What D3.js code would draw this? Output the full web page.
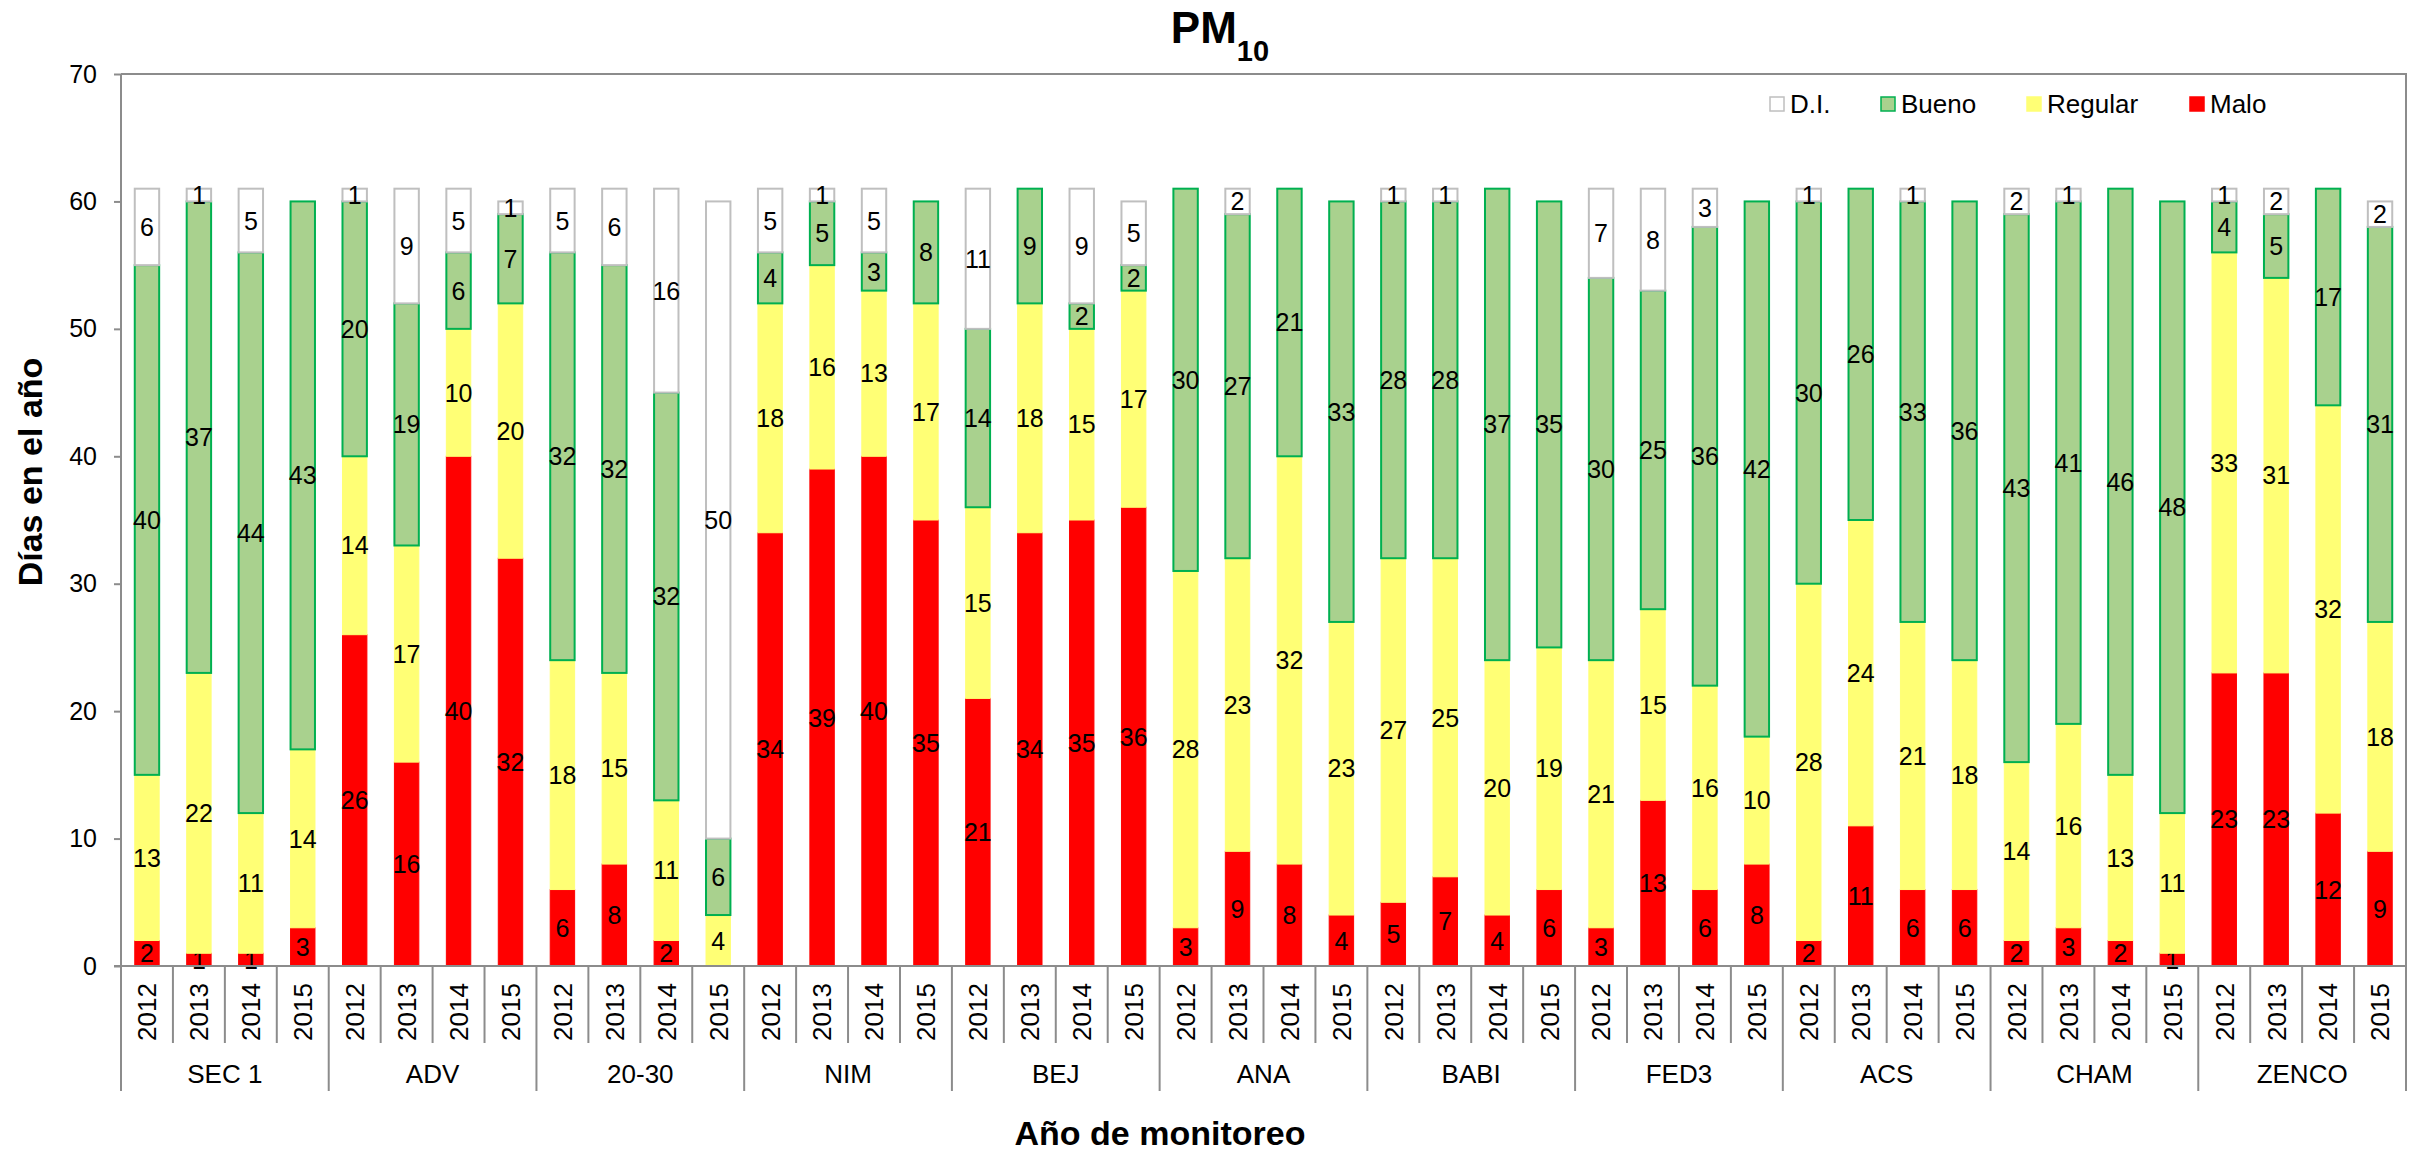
<!DOCTYPE html>
<html>
<head>
<meta charset="utf-8">
<script src="https://cdn.jsdelivr.net/npm/d3@7"></script>
<style>
  body { margin: 0; background: #fff; }
  text { font-family: "Liberation Sans", Arial, sans-serif; }
</style>
</head>
<body>
<div class="canvas"></div>
<script>
const stations = ["SEC 1", "ADV", "20-30", "NIM", "BEJ", "ANA", "BABI", "FED3", "ACS", "CHAM", "ZENCO"];
const years = ["2012", "2013", "2014", "2015"];

// one value per station-year, in station order
const malo = [2, 1, 1, 3, 26, 16, 40, 32, 6, 8, 2, 0, 34, 39, 40, 35, 21, 34, 35, 36, 3, 9, 8, 4,
  5, 7, 4, 6, 3, 13, 6, 8, 2, 11, 6, 6, 2, 3, 2, 1, 23, 23, 12, 9];
const regular = [13, 22, 11, 14, 14, 17, 10, 20, 18, 15, 11, 4, 18, 16, 13, 17, 15, 18, 15, 17, 28, 23, 32, 23,
  27, 25, 20, 19, 21, 15, 16, 10, 28, 24, 21, 18, 14, 16, 13, 11, 33, 31, 32, 18];
const bueno = [40, 37, 44, 43, 20, 19, 6, 7, 32, 32, 32, 6, 4, 5, 3, 8, 14, 9, 2, 2, 30, 27, 21, 33,
  28, 28, 37, 35, 30, 25, 36, 42, 30, 26, 33, 36, 43, 41, 46, 48, 4, 5, 17, 31];
const di = [6, 1, 5, 0, 1, 9, 5, 1, 5, 6, 16, 50, 5, 1, 5, 0, 11, 0, 9, 5, 0, 2, 0, 0,
  1, 1, 0, 0, 7, 8, 3, 0, 1, 0, 1, 0, 2, 1, 0, 0, 1, 2, 0, 2];

const yTicks = [0, 10, 20, 30, 40, 50, 60, 70];

const width = 2421, height = 1155;
const plotLeft = 121, plotRight = 2406, plotTop = 74, plotBottom = 966;
const grey = "#8c8c8c";

const keys = ["malo", "regular", "bueno", "di"];
const fills = { malo: "#ff0000", regular: "#ffff75", bueno: "#a9d18e", di: "#ffffff" };
const strokes = { malo: "#ff0000", regular: "#ffff75", bueno: "#00b050", di: "#bfbfbf" };

let rows = [];
stations.forEach((s, si) => {
  years.forEach((yr, yi) => {
    let i = si * 4 + yi;
    rows.push({ id: i, station: s, year: yr, malo: malo[i], regular: regular[i], bueno: bueno[i], di: di[i] });
  });
});

const svg = d3.select(".canvas").append("svg").attr("width", width).attr("height", height);

let xScale = d3.scaleBand()
  .domain(rows.map((d) => d.id))
  .range([plotLeft, plotRight])
  .paddingInner(0.53)
  .paddingOuter(0.265);
let yScale = d3.scaleLinear().domain([0, 70]).range([plotBottom, plotTop]);

const series = d3.stack().keys(keys)(rows);

// plot border (top and right)
svg.append("path")
  .attr("d", `M${plotLeft},${plotTop}H${plotRight}V${plotBottom}`)
  .attr("fill", "none")
  .attr("stroke", grey)
  .attr("stroke-width", 2);

// bars
let groups = svg.selectAll("g.series").data(series).join("g").attr("class", "series");
groups.selectAll("rect")
  .data((s) => s.filter((d) => d[1] - d[0] > 0).map((d) => ({ key: s.key, d: d })))
  .join("rect")
  .attr("x", (e) => xScale(e.d.data.id))
  .attr("width", xScale.bandwidth())
  .attr("y", (e) => yScale(e.d[1]))
  .attr("height", (e) => yScale(e.d[0]) - yScale(e.d[1]))
  .attr("fill", (e) => fills[e.key])
  .attr("stroke", (e) => strokes[e.key])
  .attr("stroke-width", (e) => (e.key === "bueno" || e.key === "di" ? 2 : 1));

// labels inside segments
groups.selectAll("text")
  .data((s) => s.filter((d) => d[1] - d[0] > 0))
  .join("text")
  .attr("x", (d) => xScale(d.data.id) + xScale.bandwidth() / 2)
  .attr("y", (d) => yScale((d[0] + d[1]) / 2))
  .attr("dy", "0.36em")
  .attr("text-anchor", "middle")
  .style("font-size", "25px")
  .attr("fill", "#000")
  .text((d) => d[1] - d[0]);

// y axis
let yAxis = svg.append("g")
  .attr("transform", `translate(${plotLeft},0)`)
  .call(d3.axisLeft(yScale).tickValues(yTicks).tickSize(7).tickPadding(17).tickSizeOuter(0));
yAxis.select(".domain").remove();
yAxis.selectAll("line").attr("stroke", grey).attr("stroke-width", 2);
yAxis.selectAll("text").style("font-size", "25px").attr("fill", "#000");

// x axis lines
svg.append("line")
  .attr("x1", plotLeft - 7).attr("x2", plotRight)
  .attr("y1", plotBottom).attr("y2", plotBottom)
  .attr("stroke", grey).attr("stroke-width", 2);
svg.append("line")
  .attr("x1", plotLeft).attr("x2", plotLeft)
  .attr("y1", plotTop).attr("y2", 1091)
  .attr("stroke", grey).attr("stroke-width", 2);

let step = xScale.step();
d3.range(1, rows.length + 1).forEach((i) => {
  let xx = plotLeft + i * step;
  svg.append("line")
    .attr("x1", xx).attr("x2", xx)
    .attr("y1", plotBottom).attr("y2", i % 4 === 0 ? 1091 : 1043)
    .attr("stroke", grey).attr("stroke-width", 2);
});

// year labels
svg.selectAll("text.year")
  .data(rows)
  .join("text")
  .attr("class", "year")
  .attr("transform", (d) => `translate(${xScale(d.id) + xScale.bandwidth() / 2},1012) rotate(-90)`)
  .attr("dy", "0.36em")
  .attr("text-anchor", "middle")
  .style("font-size", "26px")
  .text((d) => d.year);

// station labels
svg.selectAll("text.station")
  .data(stations)
  .join("text")
  .attr("class", "station")
  .attr("x", (s, i) => plotLeft + (i * 4 + 2) * step)
  .attr("y", 1083)
  .attr("text-anchor", "middle")
  .style("font-size", "26px")
  .text((s) => s);

// title
let title = svg.append("text")
  .attr("x", 1220)
  .attr("y", 43)
  .attr("text-anchor", "middle")
  .style("font-weight", "bold");
title.append("tspan").style("font-size", "44px").text("PM");
title.append("tspan").attr("dy", 18).style("font-size", "29px").text("10");

// axis titles
svg.append("text")
  .attr("transform", "translate(42,472) rotate(-90)")
  .attr("text-anchor", "middle")
  .style("font-size", "34px")
  .style("font-weight", "bold")
  .text("Días en el año");
svg.append("text")
  .attr("x", 1160)
  .attr("y", 1145)
  .attr("text-anchor", "middle")
  .style("font-size", "34px")
  .style("font-weight", "bold")
  .text("Año de monitoreo");

// legend
const legendItems = [
  { key: "di", label: "D.I.", x: 1770 },
  { key: "bueno", label: "Bueno", x: 1881 },
  { key: "regular", label: "Regular", x: 2027 },
  { key: "malo", label: "Malo", x: 2190 },
];
let legend = svg.selectAll("g.legend").data(legendItems).join("g").attr("class", "legend");
legend.append("rect")
  .attr("x", (d) => d.x)
  .attr("y", 97)
  .attr("width", 14)
  .attr("height", 14)
  .attr("fill", (d) => fills[d.key])
  .attr("stroke", (d) => strokes[d.key])
  .attr("stroke-width", 1.5);
legend.append("text")
  .attr("x", (d) => d.x + 20)
  .attr("y", 113)
  .style("font-size", "26px")
  .text((d) => d.label);
</script>
</body>
</html>
